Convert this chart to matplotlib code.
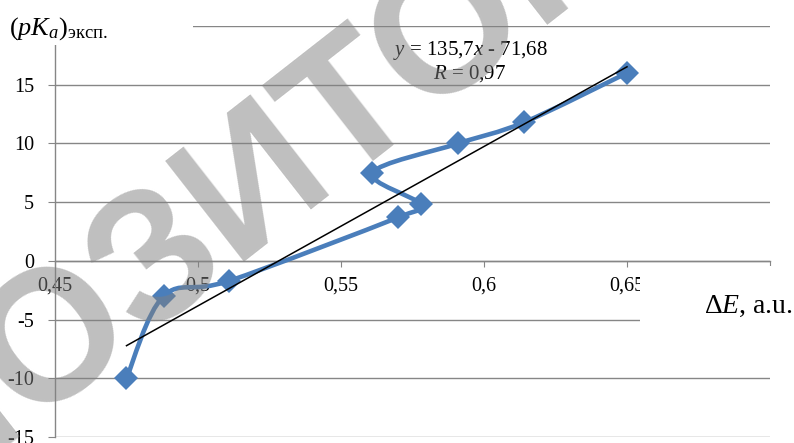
import numpy as np
import matplotlib
matplotlib.use('Agg')
import matplotlib.pyplot as plt
from matplotlib.path import Path
from matplotlib.patches import PathPatch, Rectangle

plt.rcParams['font.family'] = ['Liberation Serif', 'DejaVu Serif']
plt.rcParams['mathtext.fontset'] = 'custom'
plt.rcParams['mathtext.rm'] = 'Liberation Serif'
plt.rcParams['mathtext.it'] = 'Liberation Serif:italic'

# данные
dE = [0.475, 0.488, 0.511, 0.570, 0.578, 0.561, 0.591, 0.614, 0.650]
pKa = [-10.0, -3.0, -1.7, 3.7, 4.8, 7.5, 10.0, 11.8, 16.0]

# линия тренда (из подписи на графике)
slope, intercept = 135.7, -71.68
r_value = 0.97

x_ticks = [0.45, 0.5, 0.55, 0.6, 0.65, 0.7]
x_ticklabels = ['0,45', '0,5', '0,55', '0,6', '0,65', '']
y_ticks = [-15, -10, -5, 0, 5, 10, 15, 20]
y_ticklabels = ['-15', '-10', '-5', '0', '5', '10', '15', '']

blue = '#4A7EBB'
grey = '#868686'


def smooth_path(xs, ys):
    # сглаженная линия как в Excel (кривые Безье, Catmull-Rom)
    pts = np.column_stack([xs, ys])
    n = len(pts)
    verts = [pts[0]]
    codes = [Path.MOVETO]
    for i in range(n - 1):
        p0 = pts[max(i - 1, 0)]
        p1 = pts[i]
        p2 = pts[i + 1]
        p3 = pts[min(i + 2, n - 1)]
        verts += [p1 + (p2 - p0) / 6, p2 - (p3 - p1) / 6, p2]
        codes += [Path.CURVE4] * 3
    return Path(verts, codes)


fig = plt.figure(figsize=(7.94, 4.43), dpi=100)
ax = fig.add_axes([55 / 794, 1 - 437 / 443, 715 / 794, 411 / 443])
ax.set_xlim(0.45, 0.70)
ax.set_ylim(-15, 20)

ax.spines['top'].set_visible(False)
ax.spines['right'].set_visible(False)
ax.spines['bottom'].set_position(('data', 0))
for s in ['left', 'bottom']:
    ax.spines[s].set_color(grey)
    ax.spines[s].set_linewidth(1.0)

ax.set_xticks(x_ticks)
ax.set_xticklabels(x_ticklabels)
ax.set_yticks(y_ticks)
ax.set_yticklabels(y_ticklabels)
ax.tick_params(axis='x', direction='out', length=4, color=grey, labelsize=14.5, pad=7)
ax.tick_params(axis='y', direction='out', length=5, color=grey, labelsize=14.5, pad=10)
ax.yaxis.grid(True, color=grey, lw=1.0)
ax.set_axisbelow(True)

# сглаженная кривая + маркеры
ax.add_patch(PathPatch(smooth_path(dE, pKa), facecolor='none', edgecolor=blue,
                       lw=3.3, zorder=3, capstyle='round', joinstyle='round'))
ax.plot(dE, pKa, linestyle='none', marker='D', ms=12, mew=0, color=blue, zorder=3)

# линия тренда
xt = np.array([min(dE), max(dE)])
ax.plot(xt, slope * xt + intercept, color='black', lw=1.1, zorder=4)

eq = f'$y$ = {slope:.1f}$x$ - {abs(intercept):.2f}'.replace('.', ',')
fig.text(470 / 794, 1 - 55 / 443, eq, ha='center', va='baseline', fontsize=15)
fig.text(470 / 794, 1 - 79 / 443, f'$R$ = {r_value:.2f}'.replace('.', ','),
         ha='center', va='baseline', fontsize=15)

# белые подложки под подписями осей
fig.add_artist(Rectangle((0, 1 - 45 / 443), 193 / 794, 45 / 443, transform=fig.transFigure,
                         facecolor='white', edgecolor='none', zorder=5))
fig.add_artist(Rectangle((640 / 794, 1 - 329 / 443), 132 / 794, 63 / 443, transform=fig.transFigure,
                         facecolor='white', edgecolor='none', zorder=5))

fig.text(9 / 794, 1 - 35 / 443, r'$(pK_a)_{\mathrm{эксп.}}$', fontsize=19, va='baseline', zorder=6)
fig.text(793 / 794, 1 - 313 / 443, r'$\Delta E$, a.u.', ha='right', va='baseline', fontsize=20, zorder=6)

# водяной знак
fig.text(256 / 794, 1 - 182 / 443, 'РЕПОЗИТОРИЙ', rotation=38, rotation_mode='anchor',
         ha='center', va='center', fontsize=133, fontweight='bold', family='Liberation Sans',
         color='#808080', alpha=0.5, zorder=10)

fig.savefig('out.png', dpi=100)
